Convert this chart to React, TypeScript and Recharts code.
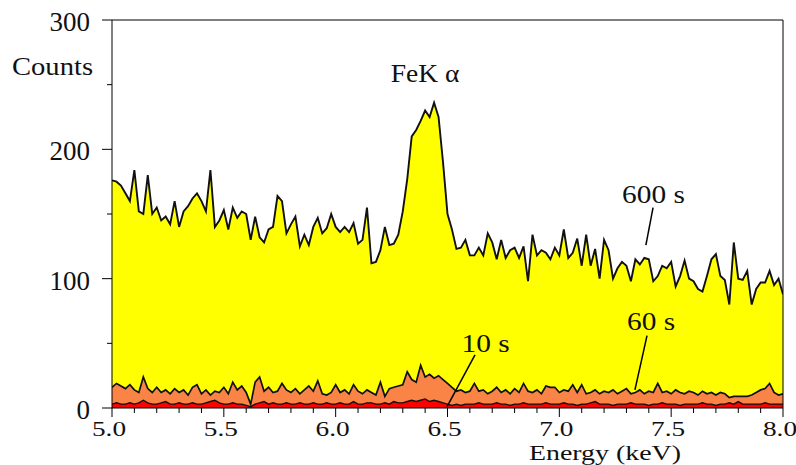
import { AreaChart, Area, XAxis, YAxis, ReferenceLine, ReferenceDot } from "recharts"

const FONT = '"Liberation Serif", "Times New Roman", serif'

// channel grid: 5.00 keV upward in 0.02 keV steps
const energyStart = 5.0
const energyStep = 0.02

const counts600 = [
  176, 175, 172, 166, 160, 184, 152, 150, 180, 150,
  155, 145, 148, 142, 160, 140, 152, 156, 162, 166,
  160, 152, 184, 140, 145, 153, 138, 155, 147, 152,
  150, 130, 148, 132, 128, 138, 140, 164, 160, 135,
  142, 148, 125, 134, 126, 140, 147, 135, 139, 150,
  140, 136, 140, 136, 143, 127, 130, 155, 112, 113,
  122, 140, 126, 127, 134, 152, 177, 210, 215, 222,
  230, 225, 236, 225, 190, 150, 138, 123, 124, 130,
  118, 118, 124, 118, 135, 128, 115, 130, 116, 122,
  124, 116, 125, 98, 134, 118, 122, 120, 115, 124,
  118, 138, 116, 120, 131, 110, 134, 110, 123, 100,
  130, 122, 100, 108, 113, 110, 98, 115, 111, 116,
  115, 98, 102, 110, 108, 113, 94, 102, 114, 100,
  98, 92, 90, 102, 115, 119, 102, 99, 80, 128,
  100, 99, 106, 80, 92, 97, 97, 106, 95, 100,
  88,
]

const counts60 = [
  16, 19, 17, 15, 18, 14, 12, 24, 15, 12,
  16, 12, 14, 11, 15, 12, 14, 10, 16, 18,
  11, 14, 10, 13, 12, 16, 11, 20, 14, 17,
  12, 3, 20, 24, 13, 16, 12, 13, 19, 14,
  12, 15, 11, 14, 17, 13, 21, 11, 10, 12,
  18, 12, 14, 11, 18, 13, 11, 14, 12, 10,
  20, 9, 15, 16, 17, 18, 28, 22, 20, 33,
  24, 26, 23, 25, 22, 19, 16, 13, 14, 12,
  13, 19, 13, 14, 11, 13, 16, 12, 14, 11,
  15, 12, 19, 13, 12, 14, 11, 17, 16, 16,
  12, 14, 13, 18, 12, 18, 11, 12, 14, 11,
  13, 12, 14, 11, 13, 15, 11, 12, 14, 11,
  13, 12, 19, 12, 13, 11, 14, 12, 11, 13,
  12, 10, 13, 11, 12, 10, 12, 11, 8, 9,
  9, 9, 9, 10, 12, 14, 15, 19, 12, 10,
  11,
]

const counts10 = [
  3, 4, 3, 3, 4, 3, 4, 6, 4, 3,
  3, 4, 5, 3, 3, 4, 3, 3, 4, 3,
  3, 4, 5, 6, 4, 3, 3, 4, 3, 3,
  2, 1, 3, 4, 5, 3, 4, 3, 3, 4,
  3, 3, 4, 3, 3, 4, 3, 3, 4, 3,
  3, 4, 3, 3, 5, 3, 3, 4, 4, 3,
  3, 4, 3, 5, 4, 4, 5, 6, 5, 6,
  7, 5, 6, 5, 4, 3, 2, 3, 2, 3,
  3, 3, 4, 3, 3, 3, 4, 3, 3, 2,
  3, 3, 4, 3, 3, 3, 3, 4, 3, 3,
  3, 4, 3, 3, 2, 3, 3, 4, 5, 3,
  3, 3, 2, 3, 3, 3, 4, 3, 3, 3,
  2, 3, 3, 4, 3, 3, 3, 2, 3, 3,
  3, 3, 4, 3, 3, 2, 3, 3, 4, 3,
  5, 3, 3, 3, 3, 3, 4, 3, 3, 3,
  3,
]

const xTicks = [
  5.0, 5.1, 5.2, 5.3, 5.4, 5.5, 5.6, 5.7, 5.8, 5.9,
  6.0, 6.1, 6.2, 6.3, 6.4, 6.5, 6.6, 6.7, 6.8, 6.9,
  7.0, 7.1, 7.2, 7.3, 7.4, 7.5, 7.6, 7.7, 7.8, 7.9, 8.0,
]
const yTicks = [0, 50, 100, 150, 200, 250, 300]

const data = counts600.map((v, i) => ({
  e: Number((energyStart + i * energyStep).toFixed(2)),
  s600: v,
  s60: counts60[i],
  s10: counts10[i],
}))

const isMajorX = (v: number) => Math.abs(v * 2 - Math.round(v * 2)) < 1e-6

function XTick({ x, y, payload }: any) {
  const major = isMajorX(payload.value)
  return (
    <g>
      <line x1={x} x2={x} y1={y} y2={y + (major ? 9 : 5)} stroke="#000" strokeWidth={1} />
      {major && (
        <text
          transform={`translate(${x - 3},${y + 28}) scale(1.3,1)`}
          textAnchor="middle"
          fontFamily={FONT}
          fontSize={21}
          fill="#111"
        >
          {Number(payload.value).toFixed(1)}
        </text>
      )}
    </g>
  )
}

function YTick({ x, y, payload }: any) {
  const major = payload.value % 100 === 0
  return (
    <g>
      <line x1={x - (major ? 10 : 5)} x2={x} y1={y} y2={y} stroke="#000" strokeWidth={1} />
      {major && (
        <text x={x - 22} y={y + 11} textAnchor="end" fontFamily={FONT} fontSize={27} fill="#111">
          {payload.value}
        </text>
      )}
    </g>
  )
}

const textMark = (text: string, size: number, sx: number) => (props: any) => {
  const vb = props.viewBox || { x: 0, y: 0 }
  return (
    <text
      transform={`translate(${vb.x},${vb.y}) scale(${sx},1)`}
      textAnchor="middle"
      fontFamily={FONT}
      fontSize={size}
      fill="#111"
    >
      {text}
    </text>
  )
}

export default function App() {
  return (
    <div style={{ position: "fixed", left: 0, top: 0, background: "#fff" }}>
      <AreaChart width={796} height={465} data={data} margin={{ top: 20, right: 13, bottom: 0, left: 0 }}>
        <XAxis
          dataKey="e"
          type="number"
          domain={[5, 8]}
          ticks={xTicks}
          interval={0}
          tickSize={0}
          tickMargin={0}
          tickLine={false}
          axisLine={{ stroke: "#000" }}
          tick={<XTick />}
          height={57}
          allowDataOverflow
          label={(p: any) => {
            const vb = p.viewBox || { x: 112, y: 408 }
            return (
              <text
                transform={`translate(${vb.x + 493},${vb.y + 52}) scale(1.33,1)`}
                textAnchor="middle"
                fontFamily={FONT}
                fontSize={21}
                fill="#111"
              >
                Energy (keV)
              </text>
            )
          }}
        />
        <YAxis
          type="number"
          domain={[0, 300]}
          ticks={yTicks}
          interval={0}
          tickSize={0}
          tickMargin={0}
          tickLine={false}
          axisLine={{ stroke: "#000" }}
          tick={<YTick />}
          width={112}
          allowDataOverflow
          label={(p: any) => {
            const vb = p.viewBox || { x: 0, y: 20 }
            return (
              <text
                transform={`translate(${vb.x + 12},${vb.y + 55}) scale(1.1,1)`}
                fontFamily={FONT}
                fontSize={26}
                fill="#111"
              >
                Counts
              </text>
            )
          }}
        />
        <Area
          type="linear"
          dataKey="s600"
          stroke="#111"
          strokeWidth={1.9}
          fill="#FFFF00"
          fillOpacity={1}
          isAnimationActive={false}
          dot={false}
          activeDot={false}
        />
        <Area
          type="linear"
          dataKey="s60"
          stroke="#111"
          strokeWidth={1.7}
          fill="#F98446"
          fillOpacity={1}
          isAnimationActive={false}
          dot={false}
          activeDot={false}
        />
        <Area
          type="linear"
          dataKey="s10"
          stroke="#111"
          strokeWidth={1.4}
          fill="#FF0000"
          fillOpacity={1}
          isAnimationActive={false}
          dot={false}
          activeDot={false}
        />
        <ReferenceLine y={300} stroke="#000" strokeWidth={1} />
        <ReferenceLine x={8} stroke="#000" strokeWidth={1} />
        <ReferenceLine segment={[{ x: 7.419, y: 155 }, { x: 7.387, y: 126 }]} stroke="#000" strokeWidth={1.5} />
        <ReferenceLine segment={[{ x: 7.392, y: 56 }, { x: 7.338, y: 14 }]} stroke="#000" strokeWidth={1.5} />
        <ReferenceLine segment={[{ x: 6.623, y: 41 }, { x: 6.498, y: 1 }]} stroke="#000" strokeWidth={1.5} />
        <ReferenceDot x={6.4} y={252} r={0} label={textMark("FeK α", 25, 1.1)} />
        <ReferenceDot x={7.421} y={158.5} r={0} label={textMark("600 s", 26, 1.13)} />
        <ReferenceDot x={7.41} y={60.3} r={0} label={textMark("60 s", 26, 1.13)} />
        <ReferenceDot x={6.67} y={43.3} r={0} label={textMark("10 s", 26, 1.13)} />
      </AreaChart>
    </div>
  )
}
